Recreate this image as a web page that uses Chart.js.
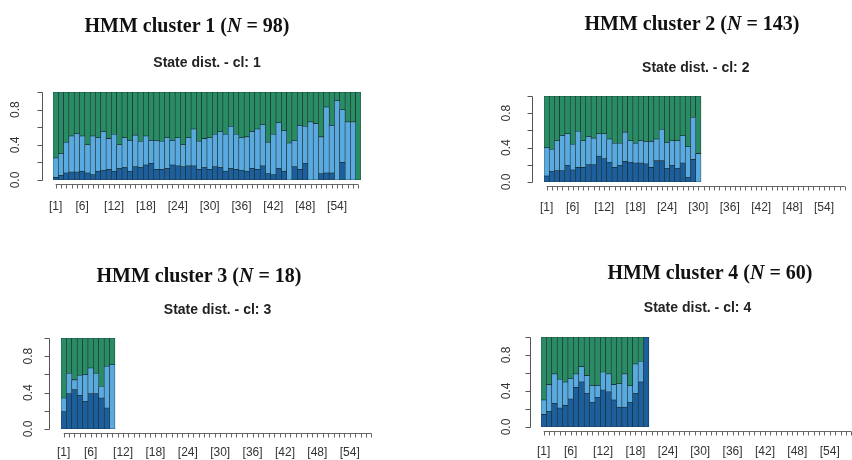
<!DOCTYPE html>
<html>
<head>
<meta charset="utf-8">
<script src="https://cdn.jsdelivr.net/npm/chart.js@4"></script>
<style>
  html, body { margin: 0; padding: 0; background: #fff; overflow: hidden; }
  #page { position: relative; width: 852px; height: 460px; overflow: hidden; }
  canvas { position: absolute; }
  .hmm {
    position: absolute; transform: translate(-50%, -50%); white-space: nowrap;
    font: bold 20px "Liberation Serif", "Times New Roman", serif; color: #111; z-index: 2;
  }
</style>
</head>
<body>
<div id="page">
  <div class="hmm" style="left:187px; top:25px;">HMM cluster 1 (<i>N</i> = 98)</div>
  <div class="hmm" style="left:692px; top:23px;">HMM cluster 2 (<i>N</i> = 143)</div>
  <div class="hmm" style="left:199px; top:275px;">HMM cluster 3 (<i>N</i> = 18)</div>
  <div class="hmm" style="left:710px; top:272px;">HMM cluster 4 (<i>N</i> = 60)</div>

  <canvas id="cl1" width="426" height="230" style="left:0; top:0;"></canvas>
  <canvas id="cl2" width="426" height="230" style="left:426px; top:0;"></canvas>
  <canvas id="cl3" width="426" height="230" style="left:0; top:230px;"></canvas>
  <canvas id="cl4" width="430" height="230" style="left:426px; top:230px;"></canvas>
</div>

<script>
// positions in the sequence: [1] ... [58]
const categories = Array.from({ length: 58 }, (_, i) => '[' + (i + 1) + ']');
const xTickLabels = ['[1]', '[6]', '[12]', '[18]', '[24]', '[30]', '[36]', '[42]', '[48]', '[54]'];
const yTicks = [0, 0.2, 0.4, 0.6, 0.8, 1.0];
const yTickLabels = ['0.0', '0.4', '0.8'];

// state proportions per position (dark blue / light blue / green)
const cl1Dark = [.03, .05, .08, .09, .09, .10, .08, .06, .10, .11, .12, .10, .13, .14, .10, .15, .14, .17, .19, .12,
  .12, .13, .17, .16, .15, .16, .16, .12, .14, .12, .15, .14, .10, .13, .12, .11, .10, .13, .12, .16,
  .07, .06, .13, .10, 0, .15, .12, .19, 0, 0, .07, .08, .08, 0, .20, 0, 0, 0];
const cl1Light = [.22, .25, .35, .41, .44, .40, .32, .44, .38, .44, .35, .42, .27, .34, .35, .36, .30, .33, .26, .33,
  .32, .35, .28, .32, .25, .32, .42, .32, .33, .36, .37, .41, .42, .48, .40, .37, .39, .42, .46, .47,
  .36, .46, .52, .46, .42, .30, .50, .42, .66, .64, .42, .75, .54, .90, .60, .66, .66, 0];
const cl1Green = [.75, .70, .57, .50, .47, .50, .60, .50, .52, .45, .53, .48, .60, .52, .55, .49, .56, .50, .55, .55,
  .56, .52, .55, .52, .60, .52, .42, .56, .53, .52, .48, .45, .48, .39, .48, .52, .51, .45, .42, .37,
  .57, .48, .35, .44, .58, .55, .38, .39, .34, .36, .51, .17, .38, .10, .20, .34, .34, 1];

const cl2Dark = [.07, .12, .13, .13, .19, .14, .17, .17, .20, .20, .30, .27, .23, .17, .19,
  .24, .23, .22, .22, .21, .17, .25, .25, .16, .19, .16, .22, .05, .26, 0];
const cl2Light = [.33, .26, .35, .41, .37, .30, .42, .31, .33, .31, .26, .29, .27, .28, .26,
  .34, .25, .23, .26, .26, .30, .25, .36, .30, .29, .32, .32, .36, .49, .33];
const cl2Green = [.60, .62, .52, .46, .44, .56, .41, .52, .47, .49, .44, .44, .50, .55, .55,
  .42, .52, .55, .52, .53, .53, .50, .39, .54, .52, .52, .46, .59, .25, .67];

const cl3Dark = [.19, .39, .43, .37, .30, .39, .39, .34, .23, 0];
const cl3Light = [.15, .22, .11, .22, .30, .28, .22, .13, .46, .71];
const cl3Green = [.66, .39, .46, .41, .40, .33, .39, .53, .31, .29];

const cl4Dark = [.14, .17, .26, .21, .24, .31, .44, .50, .37, .27, .33, .41, .39, .30, .22, .22, .27, .37, .50, 1];
const cl4Light = [.16, .30, .33, .32, .26, .23, .15, .17, .20, .19, .13, .20, .20, .17, .26, .37, .19, .33, .23, 0];
const cl4Green = [.70, .53, .41, .47, .50, .46, .41, .33, .43, .54, .54, .39, .41, .53, .52, .41, .54, .30, .27, 0];

const DARK = '#1d5f9c';
const LIGHT = '#5aaae0';
const GREEN = '#2a8c64';

Chart.defaults.font.family = '"Liberation Sans", Arial, sans-serif';

// R style axes, drawn away from the plot region
const rAxes = {
  id: 'rAxes',
  afterDraw(chart, args, opts) {
    const { ctx, chartArea: a, scales: { x, y } } = chart;
    ctx.save();
    ctx.strokeStyle = '#555';
    ctx.lineWidth = 1;
    ctx.fillStyle = '#333';
    ctx.font = '12px "Liberation Sans", Arial, sans-serif';
    ctx.textAlign = 'center';
    ctx.textBaseline = 'middle';

    const ax = Math.round(a.left - opts.yGap) + 0.5;
    ctx.beginPath();
    ctx.moveTo(ax, Math.round(y.getPixelForValue(0)) + 0.5);
    ctx.lineTo(ax, Math.round(y.getPixelForValue(1)) + 0.5);
    yTicks.forEach(v => {
      const py = Math.round(y.getPixelForValue(v)) + 0.5;
      ctx.moveTo(ax, py);
      ctx.lineTo(ax - 5, py);
    });
    ctx.stroke();
    yTickLabels.forEach(t => {
      ctx.save();
      ctx.translate(ax - opts.yLab, y.getPixelForValue(parseFloat(t)));
      ctx.rotate(-Math.PI / 2);
      ctx.fillText(t, 0, 0);
      ctx.restore();
    });

    const ay = Math.round(a.bottom + 4) + 0.5;
    ctx.strokeStyle = '#666';
    ctx.beginPath();
    ctx.moveTo(x.getPixelForValue(0), ay);
    ctx.lineTo(x.getPixelForValue(categories.length - 1), ay);
    categories.forEach((c, i) => {
      const px = Math.round(x.getPixelForValue(i)) + 0.5;
      ctx.moveTo(px, ay);
      ctx.lineTo(px, ay + 4);
    });
    ctx.stroke();
    categories.forEach((c, i) => {
      if (xTickLabels.includes(c)) ctx.fillText(c, x.getPixelForValue(i), a.bottom + opts.xLab);
    });
    ctx.restore();
  }
};

function makeChart(id, num, dark, light, green, g) {
  const ds = (data, color) => ({
    data: data,
    backgroundColor: color,
    borderColor: '#16292a',
    borderWidth: 0.6,
    borderSkipped: false,
    barPercentage: 1,
    categoryPercentage: 1
  });
  new Chart(document.getElementById(id), {
    type: 'bar',
    data: {
      labels: categories,
      datasets: [ds(dark, DARK), ds(light, LIGHT), ds(green, GREEN)]
    },
    options: {
      responsive: false,
      animation: false,
      devicePixelRatio: 1,
      layout: { padding: { left: g.left, right: g.right, top: 0, bottom: g.bottom } },
      scales: {
        x: { stacked: true, display: false },
        y: { stacked: true, display: false, min: 0, max: 1 }
      },
      plugins: {
        legend: { display: false },
        tooltip: { enabled: false },
        title: {
          display: true,
          text: 'State dist. - cl: ' + num,
          color: '#222',
          font: { size: 14, weight: 'bold' },
          padding: { top: g.subY - 8.4, bottom: g.top - g.subY - 8.4 }
        },
        rAxes: { yGap: g.yGap, yLab: g.yLab, xLab: g.xLab }
      }
    },
    plugins: [rAxes]
  });
}

makeChart('cl1', 1, cl1Dark, cl1Light, cl1Green, { left: 53, right: 65, top: 92, bottom: 50, subY: 63, yGap: 11, yLab: 27, xLab: 27 });
makeChart('cl2', 2, cl2Dark, cl2Light, cl2Green, { left: 118, right: 4.5, top: 96, bottom: 48, subY: 68, yGap: 12, yLab: 26, xLab: 26 });
makeChart('cl3', 3, cl3Dark, cl3Light, cl3Green, { left: 61, right: 52, top: 108, bottom: 31, subY: 80, yGap: 12, yLab: 21, xLab: 24 });
makeChart('cl4', 4, cl4Dark, cl4Light, cl4Green, { left: 115, right: 2, top: 107, bottom: 33, subY: 78, yGap: 11, yLab: 24, xLab: 25 });
</script>
</body>
</html>
